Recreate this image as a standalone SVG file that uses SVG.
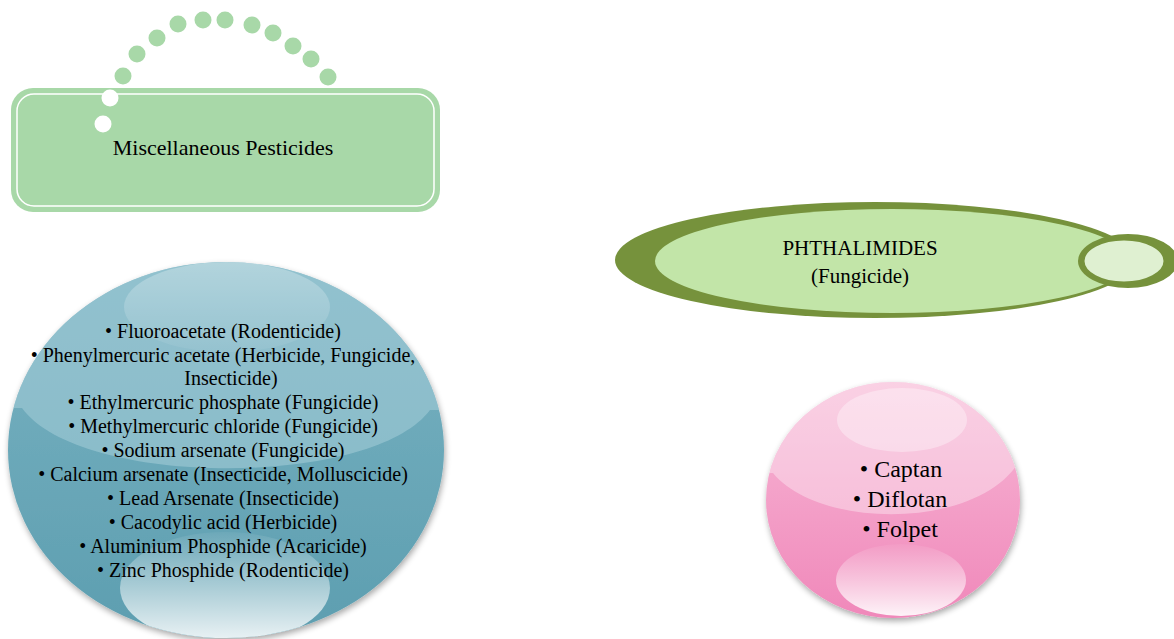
<svg xmlns="http://www.w3.org/2000/svg" width="1174" height="639" viewBox="0 0 1174 639">
<defs>
<style>
.t{font-family:"Liberation Serif","Times New Roman",serif;fill:#000;text-anchor:middle;white-space:pre}
.dot{fill:#a8d8a8}
</style>
<filter id="sh" x="-10%" y="-10%" width="120%" height="125%">
<feGaussianBlur in="SourceAlpha" stdDeviation="3"/>
<feOffset dx="1" dy="3" result="b"/>
<feComponentTransfer><feFuncA type="linear" slope="0.35"/></feComponentTransfer>
<feMerge><feMergeNode/><feMergeNode in="SourceGraphic"/></feMerge>
</filter>
<linearGradient id="blueBase" x1="0" y1="0" x2="0" y2="1">
<stop offset="0" stop-color="#7ab3c2"/>
<stop offset="1" stop-color="#5d9eb0"/>
</linearGradient>
<linearGradient id="blueHiTop" x1="0" y1="0" x2="0" y2="1">
<stop offset="0" stop-color="#ffffff" stop-opacity="0.3"/>
<stop offset="1" stop-color="#ffffff" stop-opacity="0.05"/>
</linearGradient>
<linearGradient id="hiBot" x1="0" y1="0" x2="0" y2="1">
<stop offset="0" stop-color="#ffffff" stop-opacity="0.05"/>
<stop offset="1" stop-color="#ffffff" stop-opacity="0.9"/>
</linearGradient>
<linearGradient id="pinkBase" x1="0" y1="0" x2="0" y2="1">
<stop offset="0" stop-color="#f7b8d6"/>
<stop offset="1" stop-color="#f088ba"/>
</linearGradient>
<clipPath id="cBlue"><ellipse cx="226" cy="450" rx="218" ry="188"/></clipPath>
<clipPath id="cPink"><ellipse cx="893" cy="500" rx="127" ry="118"/></clipPath>
</defs>

<g id="misc-pesticides">
<rect x="11" y="88" width="429" height="124" rx="22" fill="#a8d8a8"/>
<rect x="17" y="94" width="417" height="112" rx="17" fill="none" stroke="#ffffff" stroke-width="1.5"/>
<g id="dots">
<circle class="dot" cx="123" cy="76" r="8.5"/>
<circle class="dot" cx="137" cy="54" r="8.5"/>
<circle class="dot" cx="157" cy="38" r="8.5"/>
<circle class="dot" cx="178" cy="24" r="8.5"/>
<circle class="dot" cx="203" cy="20" r="8.5"/>
<circle class="dot" cx="225" cy="20" r="8.5"/>
<circle class="dot" cx="252" cy="25" r="8.5"/>
<circle class="dot" cx="273" cy="33" r="8.5"/>
<circle class="dot" cx="293" cy="46" r="8.5"/>
<circle class="dot" cx="311" cy="59" r="8.5"/>
<circle class="dot" cx="328" cy="77" r="8.5"/>
<circle cx="110" cy="98" r="8.5" fill="#ffffff"/>
<circle cx="103" cy="124" r="8.5" fill="#ffffff"/>
</g>
<text class="t" x="223" y="155" font-size="22">Miscellaneous Pesticides</text>
</g>

<g id="misc-list">
<ellipse cx="226" cy="450" rx="218" ry="188" fill="url(#blueBase)" filter="url(#sh)"/>
<g clip-path="url(#cBlue)">
<path d="M0,250 L452,250 L452,410 L430,410 C372,488 80,488 22,408 L0,408 Z" fill="#a6ced8" opacity="0.55"/>
<ellipse cx="227" cy="307" rx="103" ry="45" fill="url(#blueHiTop)"/>
<ellipse cx="225" cy="588" rx="105" ry="56" fill="url(#hiBot)"/>
</g>
<g class="t" font-size="20">
<text x="223" y="338">• Fluoroacetate (Rodenticide)</text>
<text x="223" y="362">• Phenylmercuric acetate (Herbicide, Fungicide,</text>
<text x="231" y="385">Insecticide)</text>
<text x="223" y="409">• Ethylmercuric phosphate (Fungicide)</text>
<text x="223" y="433">• Methylmercuric chloride  (Fungicide)</text>
<text x="223" y="457">• Sodium arsenate  (Fungicide)</text>
<text x="223" y="481">• Calcium arsenate (Insecticide, Molluscicide)</text>
<text x="223" y="505">• Lead Arsenate (Insecticide)</text>
<text x="223" y="529">• Cacodylic acid (Herbicide)</text>
<text x="223" y="553">• Aluminium Phosphide (Acaricide)</text>
<text x="223" y="577">• Zinc Phosphide (Rodenticide)</text>
</g>
</g>

<g id="phthalimides">
<ellipse cx="875" cy="260" rx="260" ry="58" fill="#76923c"/>
<ellipse cx="892" cy="261" rx="237" ry="52" fill="#c2e5a8"/>
<ellipse cx="1128" cy="261" rx="50" ry="27" fill="#76923c"/>
<ellipse cx="1124" cy="261" rx="41" ry="22" fill="#dff0d1" stroke="#76923c" stroke-width="3"/>
<text class="t" x="860" y="255" font-size="21">PHTHALIMIDES</text>
<text class="t" x="860" y="283" font-size="21">(Fungicide)</text>
</g>

<g id="phthalimides-list">
<ellipse cx="893" cy="500" rx="127" ry="118" fill="url(#pinkBase)" filter="url(#sh)"/>
<g clip-path="url(#cPink)">
<path d="M760,370 L1030,370 L1030,460 L1020,460 C980,530 820,530 773,473 L760,473 Z" fill="#ffffff" opacity="0.35"/>
<ellipse cx="902" cy="420" rx="65" ry="32" fill="#ffffff" opacity="0.35"/>
<ellipse cx="901" cy="580" rx="65" ry="36" fill="url(#hiBot)"/>
</g>
<g class="t" font-size="24">
<text x="901" y="477">• Captan</text>
<text x="900" y="507">• Diflotan</text>
<text x="900" y="537">• Folpet</text>
</g>
</g>

<g id="connectors"/>
</svg>
